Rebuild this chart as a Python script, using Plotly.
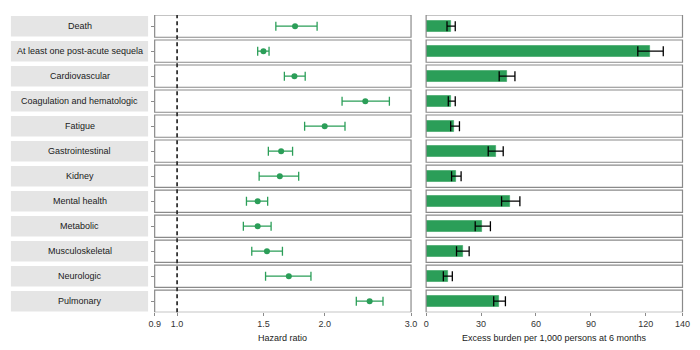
import plotly.graph_objects as go

categories = ["Death", "At least one post-acute sequela", "Cardiovascular",
              "Coagulation and hematologic", "Fatigue", "Gastrointestinal",
              "Kidney", "Mental health", "Metabolic", "Musculoskeletal",
              "Neurologic", "Pulmonary"]

hr = [1.74, 1.50, 1.735, 2.42, 2.00, 1.63, 1.62, 1.46, 1.46, 1.525, 1.69, 2.47]
hr_lo = [1.59, 1.46, 1.655, 2.17, 1.82, 1.535, 1.47, 1.385, 1.365, 1.42, 1.515, 2.32]
hr_hi = [1.93, 1.54, 1.825, 2.71, 2.20, 1.72, 1.77, 1.53, 1.555, 1.64, 1.875, 2.63]

eb = [13.5, 122.5, 44.2, 13.7, 15.5, 38.0, 16.2, 46.0, 30.8, 20.0, 11.8, 39.9]
eb_lo = [11.4, 115.6, 39.9, 12.1, 13.4, 33.9, 13.9, 41.2, 26.8, 16.6, 9.4, 36.9]
eb_hi = [15.9, 129.5, 48.5, 15.9, 18.2, 42.1, 19.1, 51.2, 35.1, 23.5, 14.3, 43.3]

hr_ticks = [0.9, 1.0, 1.5, 2.0, 3.0]
hr_ticklabels = ["0.9", "1.0", "1.5", "2.0", "3.0"]
eb_ticks = [0, 30, 60, 90, 120, 140]

GREEN = "#2b9e58"
FONT = "Liberation Sans, Arial, sans-serif"
FRAME = "#8a8a8a"

fig = go.Figure()

fig.add_trace(go.Scatter(
    x=hr, y=categories, mode="markers",
    marker=dict(color=GREEN, size=6),
    error_x=dict(type="data", symmetric=False,
                 array=[h - m for h, m in zip(hr_hi, hr)],
                 arrayminus=[m - l for m, l in zip(hr, hr_lo)],
                 color=GREEN, thickness=1.3, width=4.5),
    xaxis="x", yaxis="y", showlegend=False, cliponaxis=False,
))

fig.add_trace(go.Bar(
    x=eb, y=categories, orientation="h", width=0.43,
    marker=dict(color=GREEN, line=dict(color="rgba(43,158,88,0.55)", width=1)),
    error_x=dict(type="data", symmetric=False,
                 array=[h - m for h, m in zip(eb_hi, eb)],
                 arrayminus=[m - l for m, l in zip(eb, eb_lo)],
                 color="black", thickness=1.3, width=5),
    xaxis="x2", yaxis="y", showlegend=False,
))

shapes = []
n = len(categories)
for i in range(n):
    for xr in ("x domain", "x2 domain"):
        shapes.append(dict(type="rect", xref=xr, yref="y",
                           x0=0, x1=1, y0=i - 0.445, y1=i + 0.445,
                           line=dict(color=FRAME, width=1.2), layer="above"))
    shapes.append(dict(type="rect", xref="paper", yref="y",
                       x0=5 / 700, x1=145 / 700, y0=i - 0.41, y1=i + 0.41,
                       fillcolor="#e5e5e5", line=dict(width=0), layer="below"))

shapes.append(dict(type="line", xref="x", yref="y domain", x0=1.0, x1=1.0,
                   y0=0, y1=1, line=dict(color="#333333", width=1.8, dash="4px,3px"),
                   layer="above"))

annotations = []
for c in categories:
    annotations.append(dict(text=c, xref="paper", yref="y", x=75 / 700, y=c,
                            showarrow=False, xanchor="center", yanchor="middle",
                            font=dict(family=FONT, size=9, color="#1a1a1a")))
annotations.append(dict(text="Hazard ratio", xref="paper", yref="paper",
                        x=282.5 / 700, y=(350 - 338) / 350, showarrow=False,
                        xanchor="center", yanchor="middle",
                        font=dict(family=FONT, size=9, color="#1a1a1a")))
annotations.append(dict(text="Excess burden per 1,000 persons at 6 months",
                        xref="paper", yref="paper",
                        x=559.5 / 700, y=(350 - 338) / 350, showarrow=False,
                        xanchor="center", yanchor="middle",
                        font=dict(family=FONT, size=9, color="#1a1a1a")))

import math
fig.update_layout(
    width=700, height=350,
    margin=dict(l=0, r=0, t=0, b=0),
    paper_bgcolor="white", plot_bgcolor="white",
    font=dict(family=FONT, size=9, color="#333333"),
    xaxis=dict(type="log", domain=[151.7 / 700, 413.3 / 700],
               range=[math.log10(0.9), math.log10(3.0)],
               tickvals=hr_ticks, ticktext=hr_ticklabels,
               ticks="outside", ticklen=3, tickcolor=FRAME, tickwidth=1,
               showgrid=False, zeroline=False, showline=False, anchor="y",
               tickfont=dict(family=FONT, size=9, color="#333333")),
    xaxis2=dict(domain=[428.7 / 700, 690.3 / 700], range=[0, 140],
                tickvals=eb_ticks, ticks="outside", ticklen=3, tickcolor=FRAME,
                tickwidth=1, showgrid=False, zeroline=False, showline=False,
                anchor="y",
                tickfont=dict(family=FONT, size=9, color="#333333")),
    yaxis=dict(domain=[(350 - 312.3) / 350, (350 - 15) / 350],
               type="category", categoryorder="array", categoryarray=categories,
               range=[n - 1 + 0.445, -0.445], showticklabels=False,
               ticks="outside", ticklen=3, tickcolor=FRAME, tickwidth=1,
               showgrid=False, zeroline=False, showline=False, anchor="x"),
    shapes=shapes,
    annotations=annotations,
    bargap=0,
)

fig.write_html("out.html")
